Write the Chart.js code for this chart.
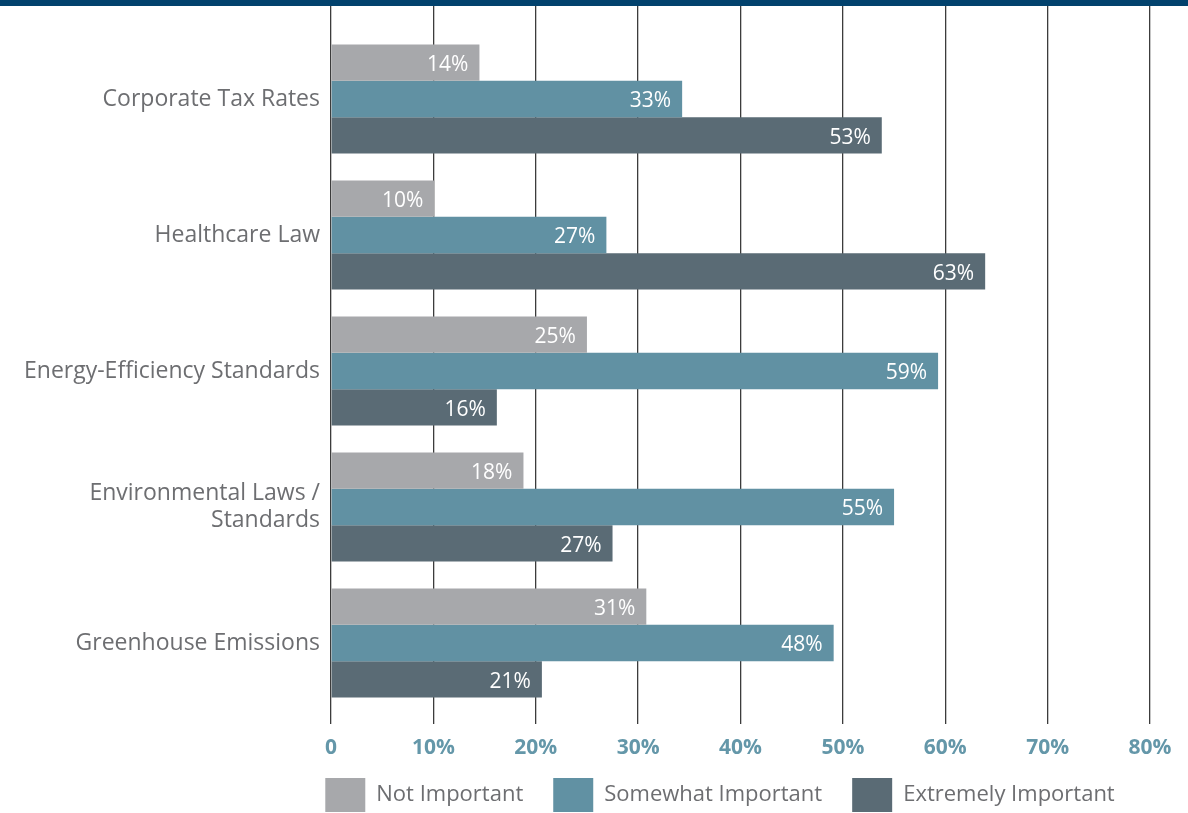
<!DOCTYPE html>
<html lang="en">
<head>
  <meta charset="UTF-8">
  <title>Regulation Importance</title>
  <script src="https://cdn.jsdelivr.net/npm/chart.js"></script>
  <style>
    body { margin: 0; background: #fff; overflow: hidden; }
    .topbar { height: 6px; background: #02426d; }
    #chart { display: block; }
  </style>
</head>
<body>
  <div class="topbar"></div>
  <canvas id="chart" width="1188" height="816"></canvas>

<script>
  const categories = ['Corporate Tax Rates', 'Healthcare Law', 'Energy-Efficiency Standards', ['Environmental Laws /', 'Standards'], 'Greenhouse Emissions'];
  const seriesNames = ['Not Important', 'Somewhat Important', 'Extremely Important'];

  // bar lengths as measured on the picture
  const notImportant = [14.5, 10.1, 25.0, 18.8, 30.8];
  const somewhatImportant = [34.3, 26.9, 59.3, 55.0, 49.1];
  const extremelyImportant = [53.8, 63.9, 16.2, 27.5, 20.6];

  // printed labels
  const notImportantLabels = [14, 10, 25, 18, 31];
  const somewhatImportantLabels = [33, 27, 59, 55, 48];
  const extremelyImportantLabels = [53, 63, 16, 27, 21];

  const xTicks = [0, 10, 20, 30, 40, 50, 60, 70, 80];

  const fonte = "'Open Sans', sans-serif";
  Chart.defaults.font.family = fonte;

  const gridColor = '#3c3c3c';
  const catFontSize = 23;

  // widest category label, so the mirrored y labels end 11px left of the axis
  const medir = document.createElement('canvas').getContext('2d');
  medir.font = catFontSize + 'px ' + fonte;
  const widest = Math.max(...categories.flat().map(t => medir.measureText(t).width));

  // white value labels at the end of each bar
  const barLabels = {
    id: 'barLabels',
    afterDatasetsDraw(chart) {
      const ctx = chart.ctx;
      ctx.save();
      ctx.fillStyle = '#ffffff';
      ctx.font = '21px ' + fonte;
      ctx.textAlign = 'right';
      ctx.textBaseline = 'middle';
      chart.data.datasets.forEach((ds, i) => {
        chart.getDatasetMeta(i).data.forEach((bar, j) => {
          ctx.fillText(ds.printed[j] + '%', bar.x - 11, bar.y + 2.5);
        });
      });
      ctx.restore();
    }
  };

  const ctx = document.getElementById('chart').getContext('2d');

  const chart = new Chart(ctx, {
    type: 'bar',
    data: {
      labels: categories,
      datasets: [
        { label: seriesNames[0], data: notImportant, printed: notImportantLabels, backgroundColor: '#a7a8ab', borderWidth: 0 },
        { label: seriesNames[1], data: somewhatImportant, printed: somewhatImportantLabels, backgroundColor: '#6191a3', borderWidth: 0 },
        { label: seriesNames[2], data: extremelyImportant, printed: extremelyImportantLabels, backgroundColor: '#5a6b75', borderWidth: 0 }
      ]
    },
    options: {
      indexAxis: 'y',
      responsive: false,
      animation: false,
      categoryPercentage: 0.8,
      barPercentage: 1.0,
      layout: { padding: { left: 290, right: 38, top: 0, bottom: 0 } },
      plugins: {
        tooltip: { enabled: false },
        legend: {
          position: 'bottom',
          align: 'center',
          labels: {
            boxWidth: 40,
            boxHeight: 34,
            padding: 30,
            color: '#6d6e71',
            font: { size: 22 }
          }
        }
      },
      scales: {
        x: {
          position: 'bottom',
          min: 0,
          max: 80,
          afterBuildTicks: (axis) => { axis.ticks = xTicks.map(v => ({ value: v })); },
          afterFit: (axis) => { axis.height = 37; },
          border: { display: false },
          grid: { color: gridColor, lineWidth: 1.3, drawTicks: true, tickLength: 13 },
          ticks: {
            mirror: true,
            padding: -50,
            color: '#6497a9',
            font: { size: 21, weight: 'bold' },
            callback: (v) => v === 0 ? '0' : v + '%'
          }
        },
        xTop: {
          axis: 'x',
          position: 'top',
          min: 0,
          max: 80,
          afterBuildTicks: (axis) => { axis.ticks = xTicks.map(v => ({ value: v })); },
          border: { display: false },
          grid: { color: gridColor, lineWidth: 1.3, drawOnChartArea: false, drawTicks: true, tickLength: 25 },
          ticks: { display: false }
        },
        y: {
          afterFit: (axis) => { axis.width = 41; },
          border: { display: false },
          grid: { display: false, drawTicks: false },
          ticks: {
            mirror: true,
            crossAlign: 'far',
            padding: -11 - widest,
            color: '#6d6e71',
            font: { size: catFontSize, lineHeight: 1.15 },
            autoSkip: false
          }
        }
      }
    },
    plugins: [barLabels]
  });
</script>
</body>
</html>
